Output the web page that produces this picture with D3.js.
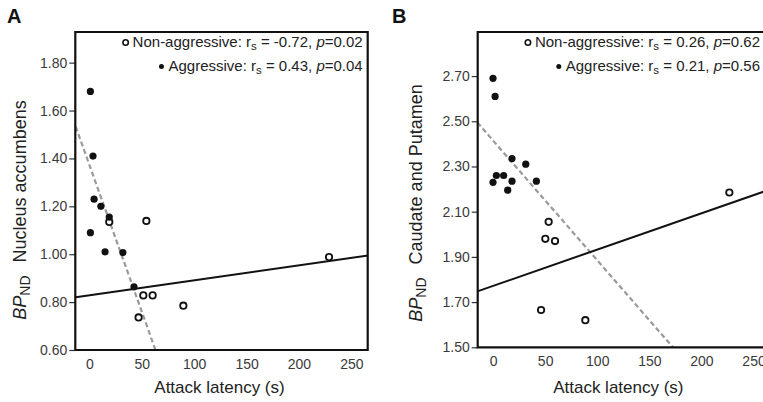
<!DOCTYPE html>
<html>
<head>
<meta charset="utf-8">
<script src="https://cdn.jsdelivr.net/npm/d3@7"></script>
<style>
  body { margin: 0; background: #fff; }
  svg { display: block; font-family: "Liberation Sans", Arial, sans-serif; }
</style>
</head>
<body>
<svg id="chart" width="763" height="402"></svg>
<script>
// ---- panel A: nucleus accumbens ----
const latencyAggA = [1, 3.5, 4.5, 11, 19, 1, 15, 32, 42.6];
const bpAggA      = [1.68, 1.41, 1.23, 1.20, 1.155, 1.09, 1.01, 1.007, 0.864];
const latencyNonA = [19, 54.4, 51.5, 60.4, 47, 89.7, 228.7];
const bpNonA      = [1.135, 1.139, 0.828, 0.828, 0.736, 0.785, 0.988];
const solidFitA   = [[-13, 0.82], [266, 0.9945]];
const dashedFitA  = [[-13, 1.533], [64, 0.589]];
const yTicksA     = [0.60, 0.80, 1.00, 1.20, 1.40, 1.60, 1.80];

// ---- panel B: caudate and putamen ----
const latencyAggB = [0, 2, 18.2, 31.4, 3.2, 10.2, 0, 18.2, 14.1, 41.6];
const bpAggB      = [2.69, 2.61, 2.335, 2.31, 2.26, 2.26, 2.23, 2.235, 2.195, 2.235];
const latencyNonB = [53.4, 50.2, 59.5, 46.1, 88.6, 226.8];
const bpNonB      = [2.055, 1.98, 1.97, 1.665, 1.62, 2.185];
const solidFitB   = [[-15, 1.7474], [261, 2.1909]];
const dashedFitB  = [[-15, 2.4945], [175, 1.4875]];
const yTicksB     = [1.50, 1.70, 1.90, 2.10, 2.30, 2.50, 2.70];

const xTicks = [0, 50, 100, 150, 200, 250];

const svg = d3.select("#chart");

function drawPanel(opt) {
    const g = svg.append("g");

    const x = d3.scaleLinear().domain(opt.xDomain).range([opt.left, opt.right]);
    const y = d3.scaleLinear().domain(opt.yDomain).range([opt.bottom, opt.top]);

    // panel letter
    g.append("text")
        .attr("x", opt.letterX).attr("y", 23)
        .style("font-size", "20px").style("font-weight", "bold").attr("fill", "#111")
        .text(opt.letter);

    const clipId = "clip-" + opt.letter;
    g.append("clipPath").attr("id", clipId)
        .append("rect")
        .attr("x", opt.left).attr("y", opt.top)
        .attr("width", opt.right - opt.left).attr("height", opt.bottom - opt.top);

    // y axis
    const yAxis = d3.axisLeft(y).tickValues(opt.yTicks).tickSize(6).tickPadding(2)
        .tickFormat(d3.format(".2f"));
    const gY = g.append("g").attr("transform", `translate(${opt.left},0)`).call(yAxis);
    gY.select(".domain").remove();
    gY.selectAll("line").attr("stroke", "#333").attr("stroke-width", 1.2);
    gY.selectAll("text").attr("fill", "#3a3a3a").style("font-size", "14px");

    // x axis
    const xAxis = d3.axisBottom(x).tickValues(xTicks).tickSize(0).tickPadding(9);
    const gX = g.append("g").attr("transform", `translate(0,${opt.bottom})`).call(xAxis);
    gX.select(".domain").remove();
    gX.selectAll("text").attr("fill", "#3a3a3a").style("font-size", "14px");

    // fits
    const line = d3.line().x(d => x(d[0])).y(d => y(d[1]));
    const fits = g.append("g").attr("clip-path", `url(#${clipId})`);
    fits.append("path").datum(opt.dashedFit)
        .attr("d", line).attr("fill", "none")
        .attr("stroke", "#9a9a9a").attr("stroke-width", 2.2)
        .attr("stroke-dasharray", "5,3");
    fits.append("path").datum(opt.solidFit)
        .attr("d", line).attr("fill", "none")
        .attr("stroke", "#111").attr("stroke-width", 2);

    // points
    const non = d3.zip(opt.latNon, opt.bpNon);
    const agg = d3.zip(opt.latAgg, opt.bpAgg);
    g.append("g").selectAll("circle").data(non).join("circle")
        .attr("cx", d => x(d[0])).attr("cy", d => y(d[1])).attr("r", 3.2)
        .attr("fill", "#fff").attr("stroke", "#111").attr("stroke-width", 1.8);
    g.append("g").selectAll("circle").data(agg).join("circle")
        .attr("cx", d => x(d[0])).attr("cy", d => y(d[1])).attr("r", 3.6)
        .attr("fill", "#111");

    // frame
    g.append("path")
        .attr("d", `M${opt.left},${opt.bottom}H${opt.right}V${opt.top}H${opt.left}Z`)
        .attr("fill", "none").attr("stroke", "#111").attr("stroke-width", 2.2);

    // legend
    const legend = g.append("g").style("font-size", "15px").attr("fill", "#222");
    const rows = [
        { label: "Non-aggressive: ", r: opt.rNon, p: opt.pNon, open: true, yy: 47 },
        { label: "Aggressive: ", r: opt.rAgg, p: opt.pAgg, open: false, yy: 71 }
    ];
    rows.forEach(row => {
        const t = legend.append("text")
            .attr("x", opt.right - 5).attr("y", row.yy).attr("text-anchor", "end");
        t.append("tspan").text(row.label + "r");
        t.append("tspan").attr("dy", 3).style("font-size", "11.5px").text("s");
        t.append("tspan").attr("dy", -3).text(" = " + row.r + ", ");
        t.append("tspan").style("font-style", "italic").text("p");
        t.append("tspan").text("=" + row.p);
        const bb = t.node().getBBox();
        const m = legend.append("circle").attr("cx", bb.x - 7).attr("cy", row.yy - 4.5);
        if (row.open) {
            m.attr("r", 2.7).attr("fill", "#fff").attr("stroke", "#111").attr("stroke-width", 1.6);
        } else {
            m.attr("r", 2.5).attr("fill", "#111");
        }
    });

    // x title
    g.append("text")
        .attr("x", (opt.left + Math.min(opt.right, 763)) / 2 - 2).attr("y", 393)
        .attr("text-anchor", "middle").style("font-size", "17px").attr("fill", "#222")
        .text("Attack latency (s)");

    // y title
    const yt = g.append("text")
        .attr("transform", `translate(${opt.yTitleX},${opt.yTitleY}) rotate(-90)`)
        .attr("text-anchor", "middle").style("font-size", "18px").attr("fill", "#222");
    yt.append("tspan").style("font-style", "italic").text("BP");
    yt.append("tspan").attr("dy", 4).style("font-size", "14px").text("ND");
    yt.append("tspan").attr("dy", -4).attr("dx", 8).text(" " + opt.region);
}

drawPanel({
    letter: "A", letterX: 7, region: "Nucleus accumbens",
    left: 75.3, right: 367.7, top: 32, bottom: 350,
    xDomain: [-13.4, 265.6], yDomain: [0.6, 1.928], yTicks: yTicksA,
    latAgg: latencyAggA, bpAgg: bpAggA, latNon: latencyNonA, bpNon: bpNonA,
    solidFit: solidFitA, dashedFit: dashedFitA,
    rNon: "-0.72", pNon: "0.02", rAgg: "0.43", pAgg: "0.04",
    yTitleX: 26, yTitleY: 210
});

drawPanel({
    letter: "B", letterX: 392, region: "Caudate and Putamen",
    left: 477.7, right: 765, top: 32, bottom: 347.3,
    xDomain: [-14.7, 261], yDomain: [1.5, 2.895], yTicks: yTicksB,
    latAgg: latencyAggB, bpAgg: bpAggB, latNon: latencyNonB, bpNon: bpNonB,
    solidFit: solidFitB, dashedFit: dashedFitB,
    rNon: "0.26", pNon: "0.62", rAgg: "0.21", pAgg: "0.56",
    yTitleX: 422, yTitleY: 203
});
</script>
</body>
</html>
